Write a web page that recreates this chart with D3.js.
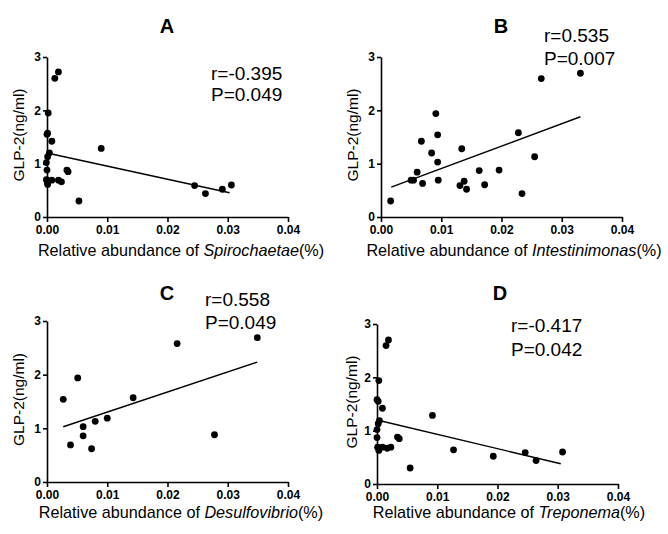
<!DOCTYPE html>
<html>
<head>
<meta charset="utf-8">
<script src="https://cdn.jsdelivr.net/npm/d3@7/dist/d3.min.js"></script>
<style>
body{margin:0;background:#fff;}
svg{display:block;font-family:"Liberation Sans",Arial,sans-serif;}
</style>
</head>
<body>
<svg id="chart" width="668" height="534"></svg>
<script>
// ---- data ----
const xTicks = [0, 0.01, 0.02, 0.03, 0.04];
const yTicks = [0, 1, 2, 3];
const panelLetters = ["A", "B", "C", "D"];
const genera = ["Spirochaetae", "Intestinimonas", "Desulfovibrio", "Treponema"];
const rTexts = ["r=-0.395", "r=0.535", "r=0.558", "r=-0.417"];
const pTexts = ["P=0.049", "P=0.007", "P=0.049", "P=0.042"];

const aX = [0.0019,0.0013,0.0002,0.0000,0.0001,0.0008,0.0004,0.0001,-0.0001,0.0000,-0.0001,0.0001,0.0001,0.0008,0.0019,0.0024,0.0033,0.0035,0.0053,0.0090,0.0245,0.0263,0.0291,0.0306];
const aY = [2.72,2.60,1.95,1.55,1.57,1.42,1.20,1.13,1.02,0.88,0.70,0.64,0.61,0.69,0.69,0.66,0.88,0.85,0.30,1.285,0.59,0.44,0.52,0.60];
const bX = [0.0016,0.0050,0.0054,0.0060,0.0067,0.0069,0.0084,0.0091,0.0094,0.0094,0.0095,0.0134,0.0131,0.0138,0.0142,0.0163,0.0172,0.0196,0.0228,0.0234,0.0255,0.0266,0.0331];
const bY = [0.30,0.69,0.69,0.84,1.42,0.63,1.20,1.94,1.54,1.03,0.69,1.28,0.59,0.67,0.52,0.87,0.605,0.88,1.58,0.44,1.13,2.595,2.695];
const cX = [0.0027,0.0039,0.0051,0.0060,0.0060,0.0074,0.0080,0.0100,0.0143,0.0216,0.0278,0.0349];
const cY = [1.54,0.69,1.94,1.03,0.86,0.62,1.13,1.19,1.57,2.58,0.88,2.69];
const dX = [0.0019,0.0015,0.0003,0.0000,0.0002,0.0009,0.0004,0.0002,0.0000,0.0000,0.0001,0.0003,0.0009,0.0017,0.0023,0.0034,0.0037,0.0055,0.0092,0.0127,0.0193,0.0246,0.0264,0.0308];
const dY = [2.70,2.595,1.94,1.58,1.55,1.42,1.19,1.13,1.02,0.87,0.69,0.63,0.69,0.67,0.69,0.88,0.85,0.30,1.285,0.64,0.52,0.59,0.44,0.60];

// regression lines: [x0, y0, x1, y1]
const aFit = [0.0, 1.20, 0.0303, 0.455];
const bFit = [0.0017, 0.56, 0.0331, 1.88];
const cFit = [0.0027, 1.03, 0.0349, 2.235];
const dFit = [0.0, 1.20, 0.0305, 0.38];

const xsAll = [aX, bX, cX, dX];
const ysAll = [aY, bY, cY, dY];
const fits = [aFit, bFit, cFit, dFit];

// ---- layout ----
const frames = [
  {l:47, r:288, t:57, b:217, title:[167,33], rt:[211,80], pt:[211,101], ylab:18, xlabX:181, xlabY:256},
  {l:381, r:622, t:57, b:217, title:[501,33], rt:[544,42], pt:[544,65], ylab:352, xlabX:514, xlabY:256},
  {l:47, r:288, t:321, b:482, title:[167,300], rt:[205,306], pt:[205,329], ylab:18, xlabX:181, xlabY:518},
  {l:377, r:618, t:324, b:484, title:[500,300], rt:[511,332], pt:[511,356], ylab:351, xlabX:509, xlabY:518}
];

const svg = d3.select("#chart");

frames.forEach((f, i) => {
  const x = d3.scaleLinear().domain([0, 0.04]).range([f.l, f.r]);
  const y = d3.scaleLinear().domain([0, 3]).range([f.b, f.t]);
  const g = svg.append("g");

  const xAxis = g.append("g").attr("transform", `translate(0,${f.b})`)
    .call(d3.axisBottom(x).tickValues(xTicks).tickFormat(d3.format(".2f")).tickSize(5).tickPadding(3).tickSizeOuter(0));
  const yAxis = g.append("g").attr("transform", `translate(${f.l},0)`)
    .call(d3.axisLeft(y).tickValues(yTicks).tickFormat(d3.format("d")).tickSize(4).tickPadding(2).tickSizeOuter(0));
  [xAxis, yAxis].forEach(a => {
    a.selectAll("path,line").attr("stroke", "#000").attr("stroke-width", 1.6);
    a.selectAll("text").attr("fill", "#000").attr("font-size", 12).attr("font-weight", "bold")
      .attr("font-family", "'Liberation Sans',Arial,sans-serif");
  });

  // regression line
  const fit = fits[i];
  g.append("line")
    .attr("x1", x(fit[0])).attr("y1", y(fit[1]))
    .attr("x2", x(fit[2])).attr("y2", y(fit[3]))
    .attr("stroke", "#000").attr("stroke-width", 1.4);

  // points
  const pts = xsAll[i].map((v, k) => [v, ysAll[i][k]]);
  g.selectAll("circle.pt").data(pts).enter().append("circle")
    .attr("cx", d => x(d[0])).attr("cy", d => y(d[1])).attr("r", 3.4).attr("fill", "#000");

  // title
  g.append("text").attr("x", f.title[0]).attr("y", f.title[1]).attr("text-anchor", "middle")
    .attr("font-size", 20).attr("font-weight", "bold").text(panelLetters[i]);

  // stats
  g.append("text").attr("x", f.rt[0]).attr("y", f.rt[1]).attr("font-size", 19).text(rTexts[i]);
  g.append("text").attr("x", f.pt[0]).attr("y", f.pt[1]).attr("font-size", 19).text(pTexts[i]);

  // y label
  g.append("text").attr("transform", `translate(${f.ylab + 6},${(f.t + f.b) / 2 - 2}) rotate(-90)`)
    .attr("text-anchor", "middle").attr("font-size", 15.5).text("GLP-2(ng/ml)");

  // x label
  const xl = g.append("text").attr("x", f.xlabX).attr("y", f.xlabY)
    .attr("text-anchor", "middle").attr("font-size", 16.2);
  xl.append("tspan").text("Relative abundance of ");
  xl.append("tspan").attr("font-style", "italic").text(genera[i]);
  xl.append("tspan").text("(%)");
});
</script>
</body>
</html>
